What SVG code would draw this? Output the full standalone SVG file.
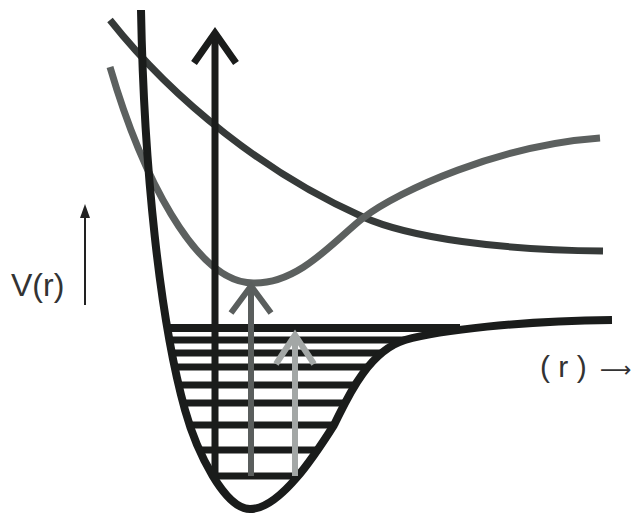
<svg xmlns="http://www.w3.org/2000/svg" width="634" height="515" viewBox="0 0 634 515">
<defs>
<style>
.ground{fill:none;stroke:#1a1c1b;stroke-width:8;stroke-linecap:butt}
.lvl{stroke:#1a1c1b;stroke-width:7}
.exc1{fill:none;stroke:#5c605f;stroke-width:7}
.exc2{fill:none;stroke:#363a39;stroke-width:7}
.lbl{font-family:"Liberation Sans",Arial,sans-serif;fill:#333;}
</style>
<clipPath id="well">
<path d="M141,10 C144,170 160,320 185,410 C197,453 225,509 250,509 C280,509 315,455 334,425 C343,408 365,352 405,340 C440,330 520,321 612,320 L612,0 L141,0 Z"/>
</clipPath>
</defs>
<rect width="634" height="515" fill="#fff"/>
<g id="levels" clip-path="url(#well)">
<line class="lvl" x1="140" y1="328" x2="460" y2="328" style="stroke-width:8"/>
<line class="lvl" x1="140" y1="340" x2="460" y2="340"/>
<line class="lvl" x1="140" y1="353" x2="460" y2="353"/>
<line class="lvl" x1="140" y1="367" x2="460" y2="367"/>
<line class="lvl" x1="140" y1="385" x2="460" y2="385"/>
<line class="lvl" x1="140" y1="403" x2="460" y2="403"/>
<line class="lvl" x1="140" y1="425" x2="460" y2="425"/>
<line class="lvl" x1="140" y1="450" x2="460" y2="450"/>
<line class="lvl" x1="140" y1="476" x2="460" y2="476"/>
</g>
<g id="excited-upper">
<path class="exc2" d="M110,20 C175,102 268,175 363,217 C410,238 500,250 603,251"/>
</g>
<g id="excited-lower">
<path class="exc1" d="M110,67 C140,170 195,285 255,283 C300,283 335,240 363,218 C400,190 500,145 600,138"/>
</g>
<g id="ground-state">
<path class="ground" d="M141,10 C144,170 160,320 185,410 C197,453 225,509 250,509 C280,509 315,455 334,425 C343,408 365,352 405,340 C440,330 520,321 612,320"/>
</g>
<g id="arrows" fill="none" stroke-linejoin="miter">
<g id="arrow-black" stroke="#1a1c1b" stroke-width="7">
<line x1="215" y1="476" x2="215" y2="34"/>
<polyline points="194,63 215,33 236,63"/>
</g>
<g id="arrow-dark" stroke="#5a5e5d" stroke-width="6">
<line x1="251" y1="476" x2="251" y2="287"/>
<polyline points="231,313 251,286 271,313"/>
</g>
<g id="arrow-light" stroke="#a3a7a6" stroke-width="6">
<line x1="295" y1="476" x2="295" y2="336"/>
<polyline points="276,364 295,335 314,364"/>
</g>
</g>
<g id="axis-v">
<text class="lbl" x="11" y="296" font-size="32">V(r)</text>
<line x1="85" y1="215" x2="85" y2="305" stroke="#222" stroke-width="2"/>
<path d="M85,204 L80,218 L90,218 Z" fill="#222"/>
</g>
<g id="axis-r">
<text class="lbl" x="540" y="377" font-size="30">( r ) <tspan x="600" font-family="'DejaVu Sans',sans-serif" font-size="22">⟶</tspan></text>
</g>
</svg>
